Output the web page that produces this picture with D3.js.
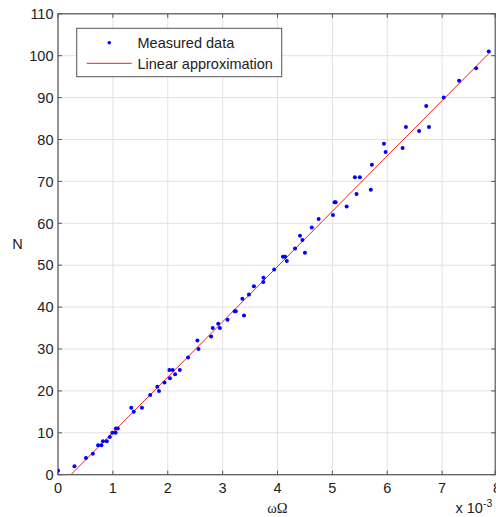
<!DOCTYPE html>
<html><head><meta charset="utf-8">
<script src="https://cdn.jsdelivr.net/npm/d3@7"></script>
<style>body{margin:0;background:#fff}svg{display:block}</style>
</head><body>
<script>
// Data (x in units of 1e-3)
const measuredX = [0, 0.30, 0.51, 0.635, 0.73, 0.79, 0.82, 0.89, 0.945, 0.99, 1.05, 1.055, 1.09, 1.335, 1.38, 1.53, 1.68, 1.81, 1.84, 1.94, 2.03, 2.04, 2.09, 2.135, 2.22, 2.37, 2.54, 2.56, 2.79, 2.82, 2.92, 2.95, 3.09, 3.22, 3.24, 3.36, 3.39, 3.48, 3.57, 3.74, 3.745, 3.94, 4.10, 4.14, 4.17, 4.32, 4.41, 4.455, 4.50, 4.625, 4.75, 5.01, 5.04, 5.06, 5.26, 5.41, 5.44, 5.50, 5.70, 5.72, 5.94, 5.97, 6.28, 6.34, 6.58, 6.71, 6.76, 7.03, 7.31, 7.62, 7.85];
const measuredN = [1, 2, 4, 5, 7, 7, 8, 8, 9, 10, 10, 11, 11, 16, 15, 16, 19, 21, 20, 22, 25, 23, 25, 24, 25, 28, 32, 30, 33, 35, 36, 35, 37, 39, 39, 42, 38, 43, 45, 46, 47, 49, 52, 52, 51, 54, 57, 56, 53, 59, 61, 62, 65, 65, 64, 71, 67, 71, 68, 74, 79, 77, 78, 83, 82, 88, 83, 90, 94, 97, 101];
const fitX = [0.235, 7.85];
const fitN = [0, 100.5];
const xTicks = [0, 1, 2, 3, 4, 5, 6, 7, 8];
const yTicks = [0, 10, 20, 30, 40, 50, 60, 70, 80, 90, 100, 110];
const legendLabels = ["Measured data", "Linear approximation"];

const W = 496, H = 517;
const L = 58, T = 13.8, R = 497, B = 474.7;
const svg = d3.select("body").append("svg").attr("width", W).attr("height", H);
const x = d3.scaleLinear().domain([0, 8]).range([L, R]);
const y = d3.scaleLinear().domain([0, 110]).range([B, T]);
const font = "'Liberation Sans', Arial, sans-serif";

svg.append("defs").append("clipPath").attr("id", "clip")
  .append("rect").attr("x", L).attr("y", T).attr("width", R - L).attr("height", B - T);

// grid
const g = svg.append("g");
g.selectAll(".gx").data(xTicks).enter().append("line")
  .attr("x1", d => x(d)).attr("x2", d => x(d)).attr("y1", T).attr("y2", B)
  .attr("stroke", "#e2e2e2").attr("stroke-width", 1);
g.selectAll(".gy").data(yTicks).enter().append("line")
  .attr("x1", L).attr("x2", R).attr("y1", d => y(d)).attr("y2", d => y(d))
  .attr("stroke", "#e2e2e2").attr("stroke-width", 1);

// box
const boxR = Math.min(R, W - 0.8);
svg.append("rect").attr("x", L).attr("y", T).attr("width", boxR - L).attr("height", B - T)
  .attr("fill", "none").attr("stroke", "#555").attr("stroke-width", 1.2);

// ticks (inward) on all sides
const tl = 4;
xTicks.forEach(d => {
  const xx = Math.min(x(d), boxR);
  svg.append("line").attr("x1", xx).attr("x2", xx).attr("y1", B).attr("y2", B - tl).attr("stroke", "#555");
  svg.append("line").attr("x1", xx).attr("x2", xx).attr("y1", T).attr("y2", T + tl).attr("stroke", "#555");
});
yTicks.forEach(d => {
  svg.append("line").attr("x1", L).attr("x2", L + tl).attr("y1", y(d)).attr("y2", y(d)).attr("stroke", "#555");
  svg.append("line").attr("x1", boxR).attr("x2", boxR - tl).attr("y1", y(d)).attr("y2", y(d)).attr("stroke", "#555");
});

// tick labels
svg.selectAll(".xl").data(xTicks).enter().append("text")
  .attr("x", d => x(d)).attr("y", 493.3).attr("text-anchor", "middle")
  .attr("font-family", font).attr("font-size", 14.5).attr("fill", "#222").text(d => d);
svg.selectAll(".yl").data(yTicks).enter().append("text")
  .attr("x", 53.5).attr("y", d => y(d) + 5.2).attr("text-anchor", "end")
  .attr("font-family", font).attr("font-size", 14.5).attr("fill", "#222").text(d => d);

// axis labels
svg.append("text").attr("x", (L + R) / 2).attr("y", 512.5).attr("text-anchor", "middle")
  .attr("font-family", "'Liberation Serif', 'Times New Roman', serif").attr("font-size", 14.5).attr("fill", "#222").text("ωΩ");
svg.append("text").attr("x", 17.5).attr("y", 248.5).attr("text-anchor", "middle")
  .attr("font-family", font).attr("font-size", 14.5).attr("fill", "#222").text("N");
const ex = svg.append("text").attr("x", 455.5).attr("y", 512.5)
  .attr("font-family", font).attr("font-size", 14.5).attr("fill", "#222");
ex.append("tspan").text("x 10");
ex.append("tspan").attr("font-size", 10.5).attr("dy", -6).text("-3");

// fit line
const pl = svg.append("g").attr("clip-path", "url(#clip)");
pl.append("path").datum(fitX.map((d, i) => [d, fitN[i]]))
  .attr("d", d3.line().x(d => x(d[0])).y(d => y(d[1])))
  .attr("fill", "none").attr("stroke", "#ee2222").attr("stroke-width", 1);

// points
pl.selectAll(".pt").data(measuredX.map((d, i) => [d, measuredN[i]])).enter().append("circle")
  .attr("cx", d => x(d[0])).attr("cy", d => y(d[1])).attr("r", 2)
  .attr("fill", "#0000ff");

// legend
const lg = svg.append("g");
lg.append("rect").attr("x", 76.7).attr("y", 28.3).attr("width", 205).attr("height", 48.4)
  .attr("fill", "#fff").attr("stroke", "#555").attr("stroke-width", 1);
lg.append("circle").attr("cx", 109.3).attr("cy", 42.7).attr("r", 1.8).attr("fill", "#0000ff");
lg.append("line").attr("x1", 86.7).attr("x2", 131.7).attr("y1", 63.3).attr("y2", 63.3)
  .attr("stroke", "#ee2222").attr("stroke-width", 1);
lg.selectAll(".lt").data(legendLabels).enter().append("text")
  .attr("x", 137.5).attr("y", (d, i) => 47.9 + i * 20.6)
  .attr("font-family", font).attr("font-size", 14.5).attr("fill", "#222").text(d => d);
</script>
</body></html>
